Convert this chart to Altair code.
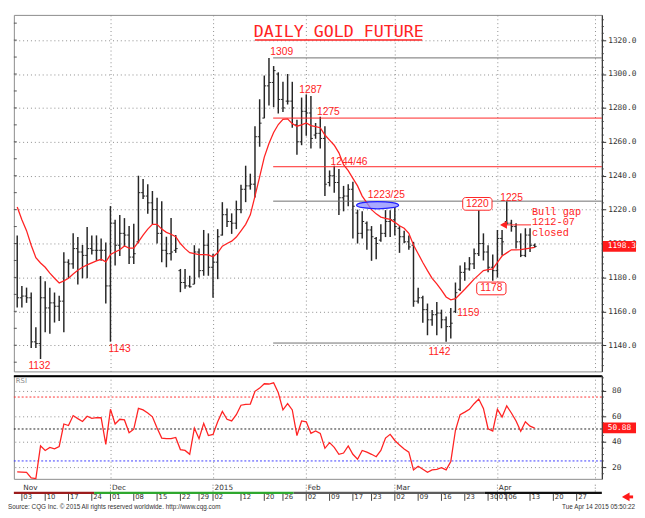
import altair as alt
import pandas as pd

# ---------------- data ----------------
OPEN = [1200,1168,1169,1168,1142,1141,1168,1162,1165,1163,
        1166,1189,1188,1197,1195,1193,1197,1196,1196,1196,
        1175,1212,1199,1206,1205,1192,1201,1230,1228,1224,
        1220,1206,1196,1194,1196,1184,1177,1175,1176,1195,
        1184,1199,1186,1189,1205,1217,1213,1212,1220,1232,
        1234,1235,1263,1274,1293,1295,1300,1285,1284,1284,
        1270,1260,1278,1277,1264,1265,1262,1236,1240,1236,
        1227,1228,1232,1218,1206,1212,1208,1203,1202,1206,
        1213,1214,1209,1204,1201,1199,1166,1168,1161,1155,
        1158,1159,1155,1151,1160,1173,1183,1185,1188,1194,
        1200,1195,1186,1184,1203,1213,1212,1210,1201,1193,
        1205,1199]
HIGH = [1204.8,1175.0,1174.0,1171.1,1150.6,1180.8,1177.7,1173.9,1171.1,1169.2,
        1194.9,1190.7,1206.1,1203.8,1199.2,1209.8,1204.8,1204.8,1202.9,1200.6,
        1222.1,1214.1,1216.9,1215.0,1210.4,1211.7,1240.0,1238.0,1235.0,1231.0,
        1227.0,1225.0,1204.0,1215.0,1205.0,1185.0,1185.0,1181.0,1199.0,1197.0,
        1208.0,1206.0,1194.0,1208.5,1224.4,1220.6,1217.8,1225.3,1234.6,1245.9,
        1241.2,1269.2,1285.1,1299.1,1309.5,1304.7,1301.0,1295.4,1300.0,1295.4,
        1273.0,1286.1,1287.9,1287.0,1271.1,1274.8,1269.2,1243.1,1245.9,1244.0,
        1234.0,1235.0,1236.5,1220.0,1219.0,1213.0,1210.3,1203.8,1211.3,1219.7,
        1219.7,1221.6,1210.3,1207.5,1204.7,1201.0,1173.9,1169.2,1164.6,1160.8,
        1165.5,1161.0,1157.0,1162.0,1177.0,1187.0,1189.0,1192.0,1197.0,1220.0,
        1206.0,1199.0,1193.5,1208.0,1208.0,1225.0,1214.0,1212.0,1206.0,1209.0,
        1209.0,1200.0]
LOW = [1162.3,1162.3,1165.0,1138.4,1138.4,1131.9,1147.7,1146.8,1153.4,1154.3,
       1147.7,1179.5,1185.1,1175.8,1179.5,1179.5,1193.5,1189.8,1189.8,1164.6,
       1142.1,1187.0,1192.6,1198.2,1187.9,1187.9,1200.1,1226.3,1217.5,1211.3,
       1200.0,1189.0,1186.0,1190.0,1194.5,1171.3,1173.3,1174.0,1176.0,1180.0,
       1181.0,1181.0,1168.0,1179.0,1204.7,1209.8,1205.7,1208.5,1217.8,1224.4,
       1231.8,1227.2,1257.1,1273.9,1281.4,1280.4,1276.7,1277.6,1282.0,1268.3,
       1252.4,1258.0,1263.6,1256.1,1261.8,1256.1,1228.1,1233.7,1230.0,1216.9,
       1219.0,1222.0,1203.0,1200.0,1203.0,1196.3,1189.8,1190.7,1201.0,1203.8,
       1203.8,1204.7,1194.5,1200.1,1196.3,1162.7,1164.6,1153.3,1145.9,1151.5,
       1145.9,1150.0,1142.0,1144.0,1159.0,1172.0,1178.0,1184.0,1185.0,1192.6,
       1190.0,1183.0,1178.0,1180.0,1193.0,1211.0,1207.0,1197.0,1192.0,1192.0,
       1195.0,1197.5]
CLOSE = [1168,1169,1168,1142,1141,1168,1162,1165,1163,1166,
         1189,1188,1197,1195,1193,1197,1196,1196,1196,1175,
         1212,1199,1206,1205,1192,1194,1230,1228,1224,1220,
         1206,1196,1194,1195,1197,1177,1175,1174.5,1195,1184,
         1199,1186,1189,1204,1217,1213,1212,1220,1232,1234,
         1235,1263,1271,1293,1295,1302,1285,1280,1284,1280,
         1260,1278,1277,1262,1265,1262,1235,1240,1236,1227,
         1228,1232,1222,1206,1213,1208,1204,1200,1206,1213,
         1214,1210,1204,1201,1198,1166,1168,1161,1155,1158,
         1159,1155,1151,1153,1171,1183,1185,1188,1194,1200,
         1195,1186,1184,1203,1201,1212,1210,1201,1193,1205,
         1199,1198.3]
MOVING_AVG = [1221.6,1214,1207.6,1199,1191.7,1188.5,1186,1182.5,1179.5,1176.7,
              1178,1179.5,1182,1184.2,1186,1187.4,1188.6,1189.8,1190.7,1189.2,
              1193.5,1195,1196.3,1198.6,1197.3,1197.3,1201,1205,1208.5,1211.3,
              1211.3,1208.5,1206.6,1205.5,1204,1200,1197,1194.6,1194,1193.5,
              1193.5,1193.3,1192.2,1194.5,1198.4,1200,1201.4,1203.8,1207.5,1211.3,
              1216.9,1228,1239.3,1251,1259,1265.5,1270.2,1273.2,1273.5,1270.7,
              1269.2,1270,1271.1,1269.6,1269,1268.3,1264,1261,1258,1253.5,
              1246.5,1243,1238.4,1234,1228,1224,1220,1217.5,1215.6,1214.8,
              1214.2,1212.5,1210.5,1209,1206,1199.1,1194,1188.8,1184,1179.5,
              1176.2,1172.5,1168.5,1166.8,1167.5,1170.2,1173,1176,1179,1181.5,
              1184,1184.6,1185,1188.9,1192.6,1194.5,1196.3,1196.3,1196.4,1196.9,
              1197.3,1197.7]
RSI_VALUES = [16.5,16.3,16.1,11.7,11.2,36.8,33.2,35.6,34.4,36.3,
              53.9,52.7,60.5,58.1,55.9,60.0,58.3,58.8,58.8,38.0,
              65.4,53.9,57.6,57.1,47.1,49.8,66.1,64.9,62.5,59.5,
              50.7,42.9,42.4,42.4,43.4,33.9,33.2,30.2,50.7,42.4,
              54.4,44.9,45.8,55.6,63.7,57.6,56.3,61.2,68.6,69.3,
              69.5,79.5,82.0,85.4,85.2,86.1,78.3,64.9,69.8,64.9,
              44.9,56.3,55.6,46.6,48.5,46.6,34.9,39.3,35.6,30.2,
              31.2,36.8,30.2,26.3,33.2,31.9,30.2,28.3,33.2,42.9,
              45.8,41.0,37.5,34.4,31.9,18.0,20.9,18.5,16.1,18.0,
              18.5,19.7,18.0,24.6,49.0,61.2,63.2,65.4,69.8,73.4,
              66.1,50.2,48.3,65.4,59.3,68.1,62.5,56.3,48.3,55.6,
              52.2,50.7]

DAY_LABELS = ["03","10","17","24","01","08","15","22","29","02","12","20","26",
              "02","09","17","23","02","09","16","23","30","01","06","13","20","27"]
DAY_INDEX = [1,6,11,16,20,25,30,35,39,42,48,53,57,62,67,72,76,81,86,91,96,101,103,105,110,115,120]
MONTH_LABELS = ["Nov","Dec","2015","Feb","Mar","Apr"]
MONTH_INDEX = [1,20,42,62,81,103]
GRID_INDEX = [20,42,62,81,103,124]
STRIP_START = [-0.72,16.5,59.3,100.3]
STRIP_END = [16.5,59.3,100.3,125.4]
STRIP_COLORS = ["#9c1c1c","#2ea82e","#5c5c5c","#111111"]

PRICE_TICKS = [1140,1160,1180,1200,1220,1240,1260,1280,1300,1320]
PRICE_MINOR = list(range(1128,1334,4))
PRICE_LEFT = list(range(1130,1335,10))
RSI_TICKS = [20,40,60,80]
RSI_MINOR = list(range(15,92,5))
RSI_LEVELS = [75,50,25]
RSI_LEVEL_COLORS = ["#ff3030","#222222","#3a3aff"]

LEVELS = [1309.5,1274.0,1245.3,1225.0,1141.3]
LEVEL_COLORS = ["#6e6e6e","#ff2323","#ff2323","#6e6e6e","#6e6e6e"]
LEVEL_START = 54.9

LABEL_TEXT = ["1309","1287","1275","1244/46","1223/25","1132","1143","1142","1159","1225"]
LABEL_I = [54.3,60.5,64.3,67.2,75.2,2.4,19.6,88.2,94.4,103.6]
LABEL_P = [1313.0,1290.7,1277.7,1248.3,1228.5,1127.9,1138.0,1136.2,1159.0,1226.6]
BOX_TEXT = ["1220","1178"]
BOX_I = [98.7,101.7]
BOX_P = [1223.4,1173.5]
NOTE_TEXT = ["Bull gap","1212-07","closed"]
NOTE_I = [110.4,110.4,110.4]
NOTE_P = [1218.8,1212.6,1206.0]
ARROW_I = [104.1,110.2]
ARROW_P = [1211.0,1211.0]
ELLIPSE_I = [77.3]
ELLIPSE_P = [1222.6]
LAST_PRICE = [1198.3]
LAST_RSI = [50.88]
TITLE = "DAILY GOLD FUTURE"
SOURCE = "Source: CQG Inc. \u00a9 2015 All rights reserved worldwide.  http://www.cqg.com"
STAMP = "Tue Apr 14 2015 05:50:22"

# ---------------- chart ----------------
W, H1, H2, H3 = 602, 365, 106, 27
RED = "#ff2323"
BAR = "#262626"
X_DOMAIN = [-0.72, 125.4]

n = len(CLOSE)
bars = pd.DataFrame({"i": list(range(n)), "o": OPEN, "h": HIGH, "l": LOW, "c": CLOSE})
ma = pd.DataFrame({"i": list(range(n)), "v": MOVING_AVG})
rsi = pd.DataFrame({"i": list(range(n)), "v": RSI_VALUES})

xscale = alt.Scale(domain=X_DOMAIN, nice=False, zero=False)
xaxis = alt.Axis(values=GRID_INDEX, labels=False, ticks=False, domain=False, title=None,
                 grid=True, gridDash=[1, 3], gridColor="#8a8a8a")


def X(f="i"):
    return alt.X(f"{f}:Q", scale=xscale, axis=xaxis)


def XB(f="i"):
    return alt.X(f"{f}:Q", scale=xscale, axis=None)


pscale = alt.Scale(domain=[1124.57, 1334.86], nice=False, zero=False)
paxis = alt.Axis(orient="right", values=PRICE_TICKS, format=".1f", title=None, grid=True,
                 gridDash=[1, 3], gridColor="#8a8a8a", tickSize=4, tickColor="#333",
                 domainColor="#222", labelFont="DejaVu Sans Mono", labelFontSize=8,
                 labelColor="#333", labelPadding=2)


def YP(f):
    return alt.Y(f"{f}:Q", scale=pscale, axis=paxis)


rscale = alt.Scale(domain=[11.0, 92.0], nice=False, zero=False)
raxis = alt.Axis(orient="right", values=RSI_TICKS, format="d", title=None, grid=True,
                 gridDash=[1, 3], gridColor="#8a8a8a", tickSize=4, tickColor="#333",
                 domainColor="#222", labelFont="DejaVu Sans Mono", labelFontSize=8,
                 labelColor="#333", labelPadding=6)


def YR(f):
    return alt.Y(f"{f}:Q", scale=rscale, axis=raxis)


# --- price panel ---
hl = alt.Chart(bars).mark_rule(color=BAR, strokeWidth=1.5).encode(x=X(), y=YP("h"), y2="l")
op = alt.Chart(bars).mark_rule(color=BAR, strokeWidth=1, xOffset=-2, x2Offset=0).encode(
    x=X(), x2="i", y=YP("o"))
cl = alt.Chart(bars).mark_rule(color=BAR, strokeWidth=1, xOffset=0, x2Offset=2).encode(
    x=X(), x2="i", y=YP("c"))
mal = alt.Chart(ma).mark_line(color=RED, strokeWidth=1.3).encode(x=X(), y=YP("v"))

lv_df = pd.DataFrame({"s": [LEVEL_START] * len(LEVELS), "e": [X_DOMAIN[1]] * len(LEVELS),
                      "p": LEVELS, "col": LEVEL_COLORS})
lv = alt.Chart(lv_df).mark_rule(strokeWidth=1).encode(
    x=X("s"), x2="e", y=YP("p"), color=alt.Color("col:N", scale=None))

lab_df = pd.DataFrame({"i": LABEL_I, "p": LABEL_P, "t": LABEL_TEXT})
lab = alt.Chart(lab_df).mark_text(align="left", baseline="middle", font="Liberation Sans",
                                  fontSize=10.5, color=RED).encode(x=X(), y=YP("p"), text="t:N")

box_df = pd.DataFrame({"i": BOX_I, "p": BOX_P, "t": BOX_TEXT})
box = alt.Chart(box_df).mark_rect(xOffset=-15, x2Offset=15, yOffset=-6.5, y2Offset=6.5,
                                  fill="white", stroke=RED, strokeWidth=1, cornerRadius=3).encode(
    x=X(), x2="i", y=YP("p"), y2="p")
boxt = alt.Chart(box_df).mark_text(align="center", baseline="middle", font="Liberation Sans",
                                   fontSize=10.5, color=RED).encode(x=X(), y=YP("p"), text="t:N")

note_df = pd.DataFrame({"i": NOTE_I, "p": NOTE_P, "t": NOTE_TEXT})
note = alt.Chart(note_df).mark_text(align="left", baseline="middle", font="Liberation Mono",
                                    fontSize=10.5, color=RED).encode(x=X(), y=YP("p"), text="t:N")

arr_df = pd.DataFrame({"s": [ARROW_I[0]], "e": [ARROW_I[1]], "p": [ARROW_P[0]]})
arr = alt.Chart(arr_df).mark_rule(color=RED, strokeWidth=1).encode(x=X("s"), x2="e", y=YP("p"))
arrh_df = pd.DataFrame({"i": [ARROW_I[0]], "p": [ARROW_P[0]]})
arrh = alt.Chart(arrh_df).mark_point(shape="triangle-left", filled=True, fill=RED, stroke=RED,
                                     size=22, opacity=1, xOffset=1.5).encode(x=X(), y=YP("p"))

ell_df = pd.DataFrame({"i": ELLIPSE_I, "p": ELLIPSE_P})
ell = alt.Chart(ell_df).mark_point(
    shape="M-1,0A1,0.17,0,1,0,1,0A1,0.17,0,1,0,-1,0Z", size=1849, filled=True,
    fill="#8c8cff", fillOpacity=0.75, stroke="#2020ff", strokeWidth=1.3, opacity=1).encode(
    x=X(), y=YP("p"))

title_df = pd.DataFrame({"t": [TITLE]})
title = alt.Chart(title_df).mark_text(font="DejaVu Sans Mono", fontSize=17, color=RED,
                                      align="center", baseline="middle").encode(
    x=alt.value(332.6), y=alt.value(17.5), text="t:N")
uline = alt.Chart(title_df).mark_rule(color=RED, strokeWidth=1.5).encode(
    x=alt.value(246.8), x2=alt.value(418.1), y=alt.value(25.8))

pm_df = pd.DataFrame({"p": PRICE_MINOR})
pminor = alt.Chart(pm_df).mark_rule(color="#444", strokeWidth=1).encode(
    x=alt.value(W), x2=alt.value(W + 2), y=YP("p"))
pl_df = pd.DataFrame({"p": PRICE_LEFT})
pleft = alt.Chart(pl_df).mark_rule(color="#555", strokeWidth=1).encode(
    x=alt.value(0), x2=alt.value(3), y=YP("p"))

last_df = pd.DataFrame({"p": LAST_PRICE, "t": ["%.1f" % v for v in LAST_PRICE]})
lastb = alt.Chart(last_df).mark_rect(color="#ff1a1a", yOffset=-5.5, y2Offset=5.5).encode(
    x=alt.value(W + 1), x2=alt.value(W + 35), y=YP("p"), y2="p")
lastt = alt.Chart(last_df).mark_text(align="left", baseline="middle", font="DejaVu Sans Mono",
                                     fontSize=8, color="white").encode(
    x=alt.value(W + 6), y=YP("p"), text="t:N")

price = alt.layer(hl, op, cl, lv, mal, ell, lab, box, boxt, note, arr, arrh, title, uline,
                  pminor, pleft, lastb, lastt).properties(width=W, height=H1)

# --- RSI panel ---
rl_df = pd.DataFrame({"v": RSI_LEVELS, "col": RSI_LEVEL_COLORS})
rlev = alt.Chart(rl_df).mark_rule(strokeDash=[2, 2], strokeWidth=1).encode(
    y=YR("v"), color=alt.Color("col:N", scale=None))
rline = alt.Chart(rsi).mark_line(color=RED, strokeWidth=1.3).encode(x=X(), y=YR("v"))
rtop = alt.Chart(rl_df.head(1)).mark_rule(color="black", strokeWidth=2).encode(y=alt.value(1))
rname = alt.Chart(pd.DataFrame({"t": ["RSI"]})).mark_text(
    align="left", baseline="middle", font="DejaVu Sans", fontSize=7, color="#888").encode(
    x=alt.value(2), y=alt.value(6), text="t:N")
rm_df = pd.DataFrame({"v": RSI_MINOR})
rminor = alt.Chart(rm_df).mark_rule(color="#444", strokeWidth=1).encode(
    x=alt.value(W), x2=alt.value(W + 2), y=YR("v"))
lr_df = pd.DataFrame({"v": LAST_RSI, "t": ["%.2f" % v for v in LAST_RSI]})
lrb = alt.Chart(lr_df).mark_rect(color="#ff1a1a", yOffset=-5.5, y2Offset=5.5).encode(
    x=alt.value(W + 1), x2=alt.value(W + 35), y=YR("v"), y2="v")
lrt = alt.Chart(lr_df).mark_text(align="left", baseline="middle", font="DejaVu Sans Mono",
                                 fontSize=8, color="white").encode(
    x=alt.value(W + 6), y=YR("v"), text="t:N")
rsi_panel = alt.layer(rlev, rline, rtop, rname, rminor, lrb, lrt).properties(width=W, height=H2)

# --- date band ---
grid_df = pd.DataFrame({"i": GRID_INDEX})
msep = alt.Chart(grid_df).mark_rule(color="#777", strokeDash=[1, 2], strokeWidth=1).encode(
    x=XB(), y=alt.value(0), y2=alt.value(7.5))
mon_df = pd.DataFrame({"i": MONTH_INDEX, "t": MONTH_LABELS})
mon = alt.Chart(mon_df).mark_text(align="left", baseline="middle", font="DejaVu Sans",
                                  fontSize=7.5, color="#333", dx=1.5).encode(
    x=XB(), y=alt.value(3.6), text="t:N")
strip_df = pd.DataFrame({"s": STRIP_START, "e": STRIP_END, "col": STRIP_COLORS})
strip = alt.Chart(strip_df).mark_rect().encode(
    x=XB("s"), x2="e", y=alt.value(7.2), y2=alt.value(9.4), color=alt.Color("col:N", scale=None))
day_df = pd.DataFrame({"i": DAY_INDEX, "t": DAY_LABELS})
dsep = alt.Chart(day_df).mark_rule(color="#444", strokeWidth=1).encode(
    x=XB(), y=alt.value(9.4), y2=alt.value(16.5))
dlab = alt.Chart(day_df).mark_text(align="left", baseline="middle", font="DejaVu Sans",
                                   fontSize=7, color="#333", dx=1.5).encode(
    x=XB(), y=alt.value(13), text="t:N")
foot_df = pd.DataFrame({"t": [SOURCE], "u": [STAMP]})
src = alt.Chart(foot_df).mark_text(align="left", baseline="middle", font="Liberation Sans",
                                   fontSize=6.5, color="#333").encode(
    x=alt.value(-6), y=alt.value(22.5), text="t:N")
stamp = alt.Chart(foot_df).mark_text(align="right", baseline="middle", font="Liberation Sans",
                                     fontSize=6.5, color="#333").encode(
    x=alt.value(W + 34), y=alt.value(22.5), text="u:N")
ahead = alt.Chart(foot_df).mark_point(shape="triangle-left", filled=True, fill="#ff1a1a",
                                      stroke="#ff1a1a", size=30, opacity=1).encode(
    x=alt.value(W + 25), y=alt.value(12.5))
ashaft = alt.Chart(foot_df).mark_rule(color="#ff1a1a", strokeWidth=3).encode(
    x=alt.value(W + 26), x2=alt.value(W + 32), y=alt.value(12.5))
band = alt.layer(msep, strip, dsep, mon, dlab, src, stamp, ahead, ashaft).properties(
    width=W, height=H3, view=alt.ViewBackground(strokeOpacity=0))

chart = alt.vconcat(price, rsi_panel, band, spacing=2).resolve_scale(
    x="independent", y="independent").properties(padding=0).configure_view(
    stroke="#8a8a8a", strokeWidth=1)

chart.save("out.html", embed_options={"renderer": "svg", "actions": False})
